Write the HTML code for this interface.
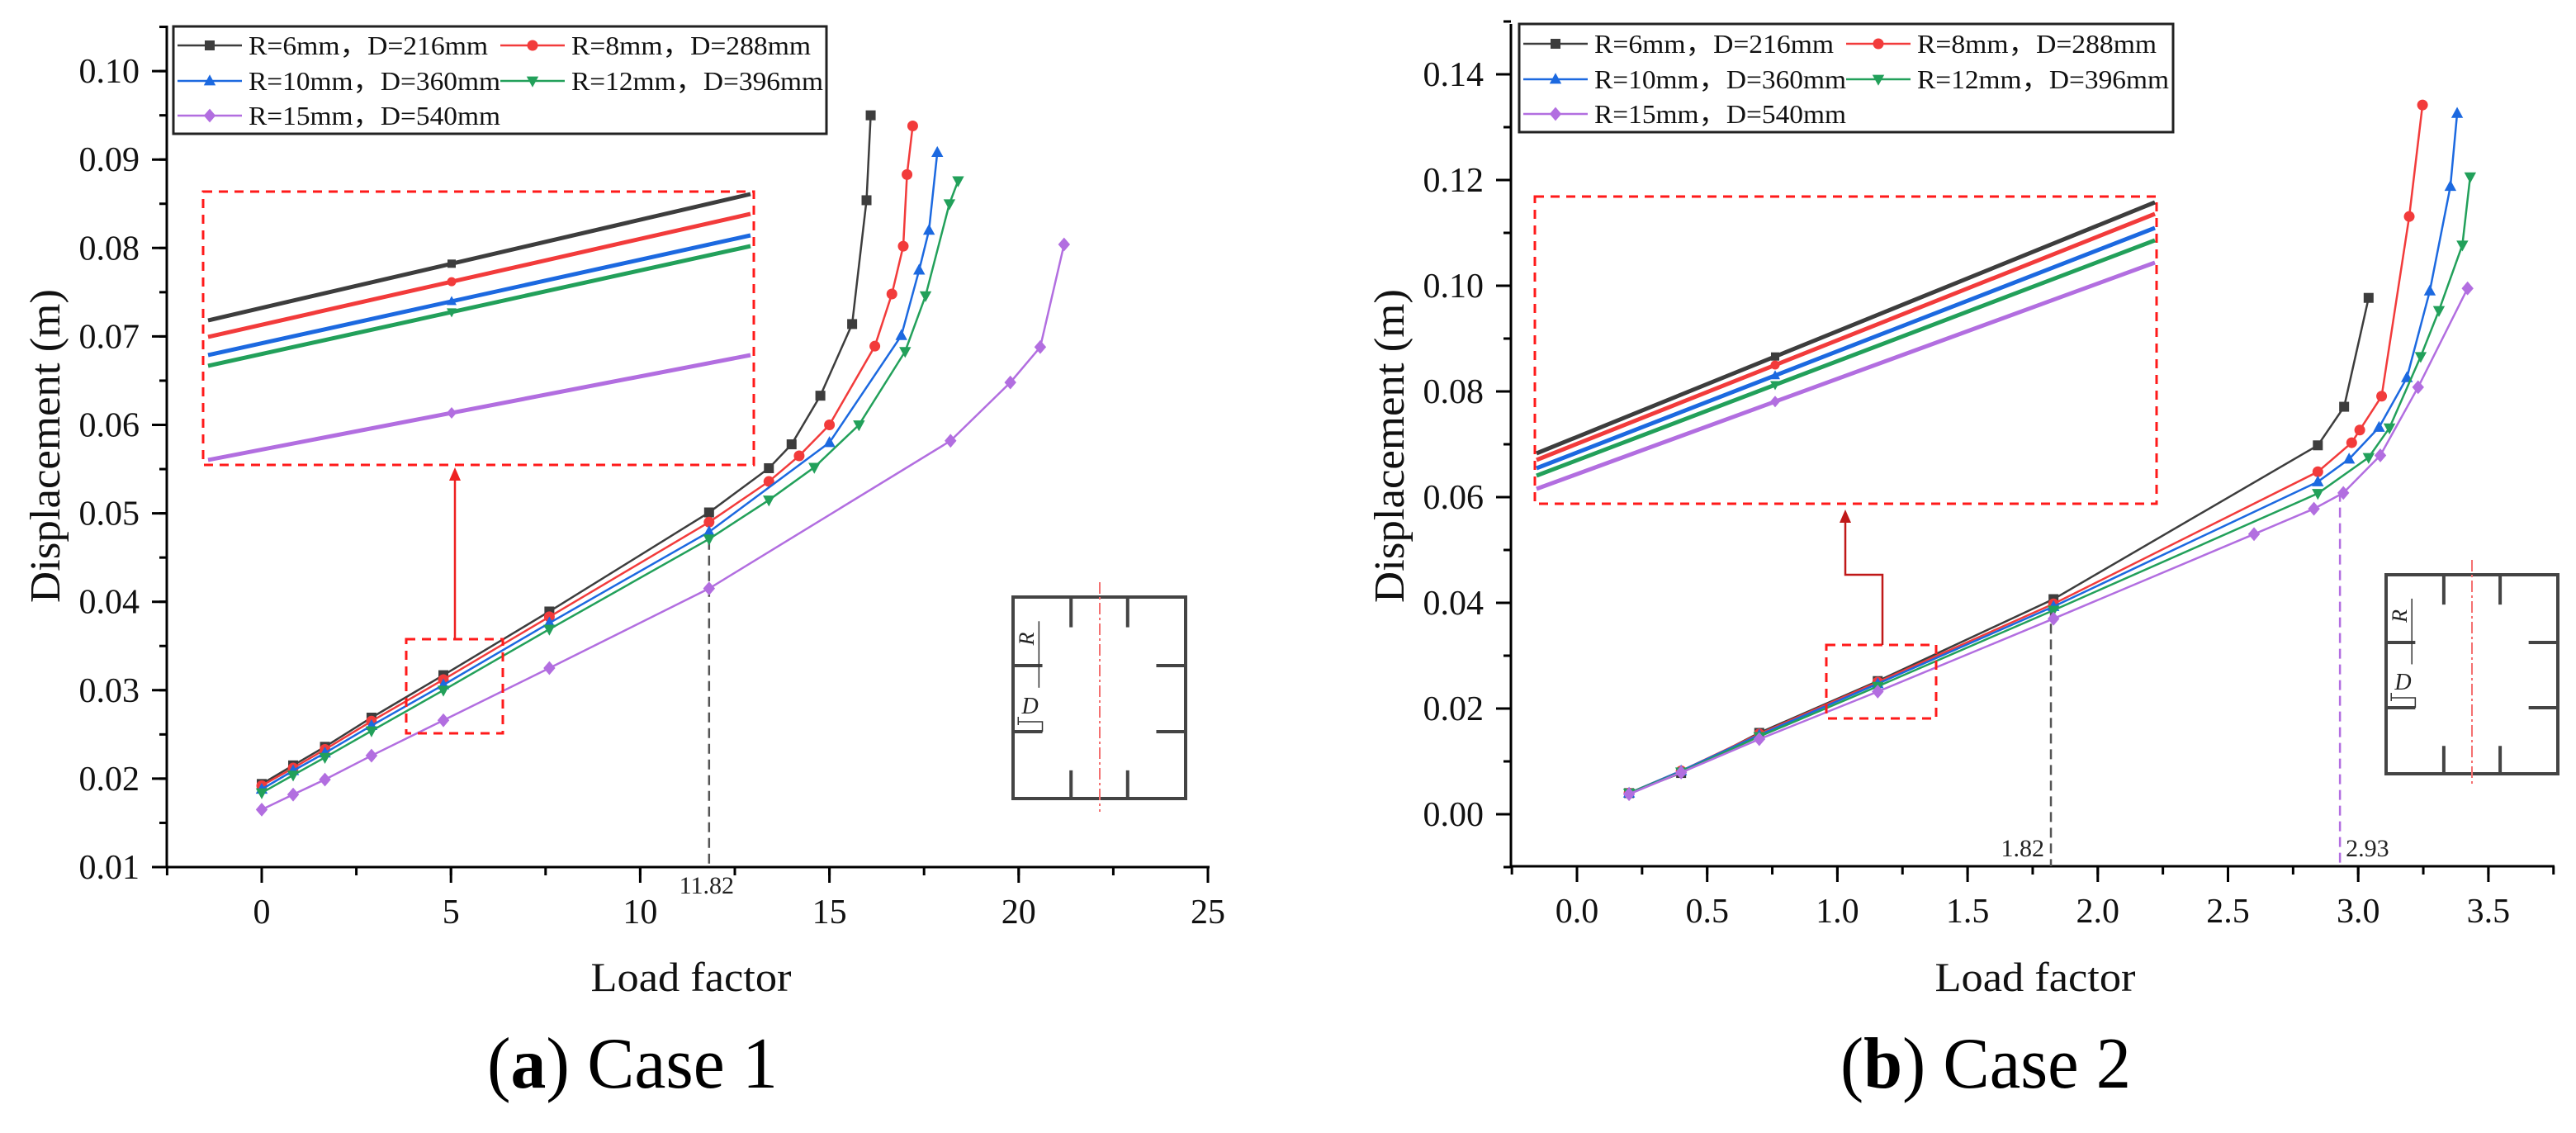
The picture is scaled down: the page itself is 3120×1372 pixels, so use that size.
<!DOCTYPE html>
<html><head><meta charset="utf-8"><style>
html,body{margin:0;padding:0;background:#fff;}
svg{display:block;font-family:"Liberation Serif",serif;}
</style></head><body>
<svg id="fig" width="3120" height="1372" viewBox="0 0 3120 1372" xmlns="http://www.w3.org/2000/svg"></svg>
<script>
// ---------- Case 1 data ----------
const c1Categories = ["R=6mm，D=216mm","R=8mm，D=288mm","R=10mm，D=360mm","R=12mm，D=396mm","R=15mm，D=540mm"];
const c1XBlack  = [0,0.83,1.67,2.9,4.8,7.6,11.82,13.4,14.0,14.76,15.6,15.98,16.09];
const c1YBlack  = [0.0194,0.0215,0.0236,0.0269,0.0317,0.0389,0.0501,0.0551,0.0578,0.0633,0.0714,0.0854,0.095];
const c1XRed    = [0,0.83,1.67,2.9,4.8,7.6,11.82,13.4,14.2,15.0,16.2,16.65,16.95,17.05,17.2];
const c1YRed    = [0.0192,0.0212,0.0233,0.0265,0.0312,0.0383,0.049,0.0536,0.0565,0.06,0.0689,0.0748,0.0802,0.0883,0.0938];
const c1XBlue   = [0,0.83,1.67,2.9,4.8,7.6,11.82,15.0,16.9,17.37,17.63,17.85];
const c1YBlue   = [0.0188,0.0209,0.0229,0.026,0.0306,0.0376,0.0479,0.058,0.0701,0.0775,0.082,0.0908];
const c1XGreen  = [0,0.83,1.67,2.9,4.8,7.6,11.82,13.4,14.6,15.78,17.0,17.54,18.17,18.4];
const c1YGreen  = [0.0184,0.0204,0.0224,0.0254,0.03,0.0369,0.0471,0.0515,0.0552,0.06,0.0683,0.0746,0.085,0.0876];
const c1XPurple = [0,0.83,1.67,2.9,4.8,7.6,11.82,18.2,19.78,20.57,21.2];
const c1YPurple = [0.0165,0.0182,0.0199,0.0226,0.0266,0.0325,0.0415,0.0582,0.0648,0.0688,0.0804];
const c1XTicks = [0,5,10,15,20,25];
const c1YTicks = [0.01,0.02,0.03,0.04,0.05,0.06,0.07,0.08,0.09,0.10];
// ---------- Case 2 data ----------
const c2XBlack  = [0.2,0.4,0.7,1.155,1.83,2.845,2.946,3.04];
const c2YBlack  = [0.004,0.0078,0.0154,0.0252,0.0407,0.0698,0.0771,0.0977];
const c2XRed    = [0.2,0.4,0.7,1.155,1.83,2.845,2.975,3.006,3.09,3.196,3.247];
const c2YRed    = [0.004,0.0082,0.0152,0.025,0.0398,0.0648,0.0703,0.0727,0.0791,0.1131,0.1342];
const c2XBlue   = [0.2,0.4,0.7,1.155,1.83,2.845,2.965,3.08,3.187,3.275,3.354,3.38];
const c2YBlue   = [0.004,0.0082,0.015,0.0247,0.0393,0.0629,0.0672,0.0732,0.0826,0.099,0.1188,0.1326];
const c2XGreen  = [0.2,0.4,0.7,1.155,1.83,2.845,3.04,3.12,3.24,3.31,3.40,3.43];
const c2YGreen  = [0.004,0.008,0.0147,0.0242,0.0386,0.0607,0.0675,0.0731,0.0866,0.0953,0.1077,0.1206];
const c2XPurple = [0.2,0.4,0.7,1.155,1.83,2.60,2.83,2.943,3.085,3.23,3.42];
const c2YPurple = [0.0038,0.0079,0.0142,0.0232,0.037,0.053,0.0578,0.0608,0.0679,0.0808,0.0995];
const c2XTicks = [0,0.5,1.0,1.5,2.0,2.5,3.0,3.5];
const c2YTicks = [0,0.02,0.04,0.06,0.08,0.10,0.12,0.14];

const colors=["#3d3d3d","#f23b3b","#1c69e0","#22a05a","#b26ee0"];
const shapes=["square","circle","up","down","diamond"];
const NS="http://www.w3.org/2000/svg";
const svg=document.getElementById("fig");
function el(tag,attrs,parent){const e=document.createElementNS(NS,tag);for(const k in attrs)e.setAttribute(k,attrs[k]);(parent||svg).appendChild(e);return e;}
function marker(g,shape,cx,cy,c,s){
  let m;
  if(shape==="square") m=el("rect",{x:cx-s/2,y:cy-s/2,width:s,height:s,fill:c},g);
  else if(shape==="circle") m=el("circle",{cx:cx,cy:cy,r:s/2+0.5,fill:c},g);
  else if(shape==="up") m=el("polygon",{points:`${cx},${cy-s*0.65} ${cx-s*0.6},${cy+s*0.45} ${cx+s*0.6},${cy+s*0.45}`,fill:c},g);
  else if(shape==="down") m=el("polygon",{points:`${cx},${cy+s*0.65} ${cx-s*0.6},${cy-s*0.45} ${cx+s*0.6},${cy-s*0.45}`,fill:c},g);
  else m=el("polygon",{points:`${cx},${cy-s*0.7} ${cx+s*0.6},${cy} ${cx},${cy+s*0.7} ${cx-s*0.6},${cy}`,fill:c},g);
  
  
  return m;
}
function text(str,attrs,parent){const t=el("text",attrs,parent);t.textContent=str;return t;}

function chart(cfg){
  const g=el("g",{});
  
  
  const X=v=>cfg.x0+(v)*cfg.xs, Y=v=>cfg.y0-(v-cfg.yb)*cfg.ys;
  const ax=el("path",{d:`M${cfg.left},${cfg.top} V${cfg.bottom} H${cfg.right}`,fill:"none",stroke:"#000","stroke-width":3},g);
  
  
  cfg.xTicks.forEach((v,i)=>{
    el("line",{x1:X(v),y1:cfg.bottom,x2:X(v),y2:cfg.bottom+19,stroke:"#000","stroke-width":3},g);
    const t=text(cfg.xFmt(v),{x:X(v),y:cfg.bottom+68,"font-size":42,"text-anchor":"middle",fill:"#111"},g);
    
    
  });
  for(let v=cfg.xMinorStart;v<=cfg.xMax+1e-9;v+=cfg.xMinor){
    el("line",{x1:X(v),y1:cfg.bottom,x2:X(v),y2:cfg.bottom+10,stroke:"#000","stroke-width":3},g);
  }
  cfg.yTicks.forEach(v=>{
    el("line",{x1:cfg.left-18,y1:Y(v),x2:cfg.left,y2:Y(v),stroke:"#000","stroke-width":3},g);
    const t=text(v.toFixed(2),{x:cfg.left-33,y:Y(v)+14,"font-size":42,"text-anchor":"end",fill:"#111"},g);
    
    
  });
  for(let v=cfg.yMinorStart;v<=cfg.yMax+1e-9;v+=cfg.yMinor){
    el("line",{x1:cfg.left-9,y1:Y(v),x2:cfg.left,y2:Y(v),stroke:"#000","stroke-width":3},g);
  }
  const yt=text("Displacement (m)",{x:0,y:0,"font-size":52,"text-anchor":"middle",transform:`translate(${cfg.ytX},540) rotate(-90)`,fill:"#111",textLength:380,lengthAdjust:"spacingAndGlyphs"},g);
  
  
  const xt=text("Load factor",{x:cfg.xtX,y:1200,"font-size":50,"text-anchor":"middle",fill:"#111",textLength:243,lengthAdjust:"spacingAndGlyphs"},g);
  
  
  const cap=el("text",{x:cfg.capX,y:1317,"font-size":88,"text-anchor":"middle",fill:"#000",textLength:352,lengthAdjust:"spacingAndGlyphs"},g);
  
  
  cap.innerHTML=`(<tspan font-weight="bold">${cfg.capL}</tspan>) ${cfg.capT}`;
  cfg.guides.forEach(gd=>{
    const l=el("line",{x1:X(gd.x),y1:Y(gd.y),x2:X(gd.x),y2:cfg.bottom,stroke:gd.c,"stroke-width":2.5,"stroke-dasharray":"12,7"},g);
    
    
    const t=text(gd.label,{x:X(gd.x)+gd.dx,y:cfg.bottom+gd.dy,"font-size":30,"text-anchor":gd.anchor,fill:"#222"},g);
    
    
  });
  cfg.series.forEach((s,i)=>{
    const sg=el("g",{},g);
    
    
    const pts=s.x.map((v,j)=>X(v)+","+Y(s.y[j])).join(" ");
    el("polyline",{points:pts,fill:"none",stroke:colors[i],"stroke-width":2.5},sg);
    s.x.forEach((v,j)=>marker(sg,shapes[i],X(v),Y(s.y[j]),colors[i],12));
  });
  const ig=el("g",{},g);
  
  
  const b=cfg.inset;
  el("rect",{x:b.x1,y:b.y1,width:b.x2-b.x1,height:b.y2-b.y1,fill:"none",stroke:"#ff1a1a","stroke-width":3,"stroke-dasharray":"11,8"},ig);
  b.lines.forEach((ln,i)=>{
    el("line",{x1:b.lx1,y1:ln[0],x2:b.lx2,y2:ln[1],stroke:colors[i],"stroke-width":5},ig);
    const my=ln[0]+(ln[1]-ln[0])*(b.mx-b.lx1)/(b.lx2-b.lx1);
    marker(ig,shapes[i],b.mx,my,colors[i],10);
  });
  const sb=cfg.small;
  const sr=el("rect",{x:sb.x1,y:sb.y1,width:sb.x2-sb.x1,height:sb.y2-sb.y1,fill:"none",stroke:"#ff1a1a","stroke-width":3,"stroke-dasharray":"11,8"},g);
  
  
  const ar=el("path",{d:cfg.arrow.d,fill:"none",stroke:cfg.arrow.c,"stroke-width":2.5},g);
  
  
  const ah=cfg.arrow.head;
  el("polygon",{points:`${ah[0]},${ah[1]} ${ah[0]-7},${ah[1]+16} ${ah[0]+7},${ah[1]+16}`,fill:cfg.arrow.c},g);
  const s=cfg.sch; const sgp=el("g",{},g);
  
  
  const w=s.x2-s.x1,h=s.y2-s.y1,st="#444";
  el("rect",{x:s.x1,y:s.y1,width:w,height:h,fill:"none",stroke:st,"stroke-width":4},sgp);
  const lx1=s.x1+w*0.336,lx2=s.x1+w*0.664,ly1=s.y1+h*0.34,ly2=s.y1+h*0.668;
  [lx1,lx2].forEach(x=>{el("line",{x1:x,y1:s.y1,x2:x,y2:s.y1+h*0.15,stroke:st,"stroke-width":4},sgp);el("line",{x1:x,y1:s.y2,x2:x,y2:s.y2-h*0.14,stroke:st,"stroke-width":4},sgp);});
  [ly1,ly2].forEach(y=>{el("line",{x1:s.x1,y1:y,x2:s.x1+w*0.17,y2:y,stroke:st,"stroke-width":4},sgp);el("line",{x1:s.x2,y1:y,x2:s.x2-w*0.17,y2:y,stroke:st,"stroke-width":4},sgp);});
  el("line",{x1:s.x1+w*0.15,y1:s.y1+h*0.12,x2:s.x1+w*0.15,y2:s.y1+h*0.45,stroke:"#333","stroke-width":1.5},sgp);
  el("path",{d:`M${s.x1+w*0.03},${ly2-18} V${ly2-8} M${s.x1+w*0.03},${ly2-12} H${s.x1+w*0.17} V${ly2}`,fill:"none",stroke:"#333","stroke-width":1.5},sgp);
  text("R",{x:0,y:0,"font-size":26,"font-style":"italic",transform:`translate(${s.x1+w*0.12},${s.y1+h*0.24}) rotate(-90)`,fill:"#222"},sgp);
  text("D",{x:s.x1+w*0.05,y:ly2-22,"font-size":28,"font-style":"italic",fill:"#222"},sgp);
  el("line",{x1:s.cx,y1:s.y1-18,x2:s.cx,y2:s.y2+16,stroke:"#f47070","stroke-width":2,"stroke-dasharray":"14,4,3,4"},sgp);
  const lg=el("g",{},g);
  
  
  const L=cfg.leg;
  el("rect",{x:L.x1,y:L.y1,width:L.x2-L.x1,height:L.y2-L.y1,fill:"#fff",stroke:"#222","stroke-width":3},lg);
  c1Categories.forEach((name,i)=>{
    const col=i%2, row=Math.floor(i/2);
    const lx=col?L.c2:L.c1, ly=L.rows[row];
    const eg=el("g",{},lg);
    
    
    el("line",{x1:lx,y1:ly,x2:lx+78,y2:ly,stroke:colors[i],"stroke-width":2.5},eg);
    marker(eg,shapes[i],lx+39,ly,colors[i],12);
    text(name,{x:lx+86,y:ly+11,"font-size":32,fill:"#111",textLength:i<2?290:305,lengthAdjust:"spacingAndGlyphs"},eg);
  });
}

chart({name:"chart-case-1",left:202,right:1465,top:31,bottom:1050,x0:317,xs:45.84,y0:1050,yb:0.01,ys:10710,
  xTicks:c1XTicks,xFmt:v=>String(v),xMinor:2.5,xMinorStart:-2.5,xMax:25,
  yTicks:c1YTicks,yMinor:0.005,yMinorStart:0.015,yMax:0.105,
  ytX:72,xtX:837,capX:766,capL:"a",capT:"Case 1",
  guides:[{x:11.82,y:0.047,c:"#555",label:"11.82",dx:-3,dy:32,anchor:"middle"}],
  series:[{x:c1XBlack,y:c1YBlack},{x:c1XRed,y:c1YRed},{x:c1XBlue,y:c1YBlue},{x:c1XGreen,y:c1YGreen},{x:c1XPurple,y:c1YPurple}],
  inset:{x1:246,y1:232,x2:913,y2:563,lx1:252,lx2:909,mx:547,lines:[[388,235],[408,259],[430,285],[443,298],[557,430]]},
  small:{x1:492,y1:774,x2:609,y2:888},
  arrow:{d:"M551,774 V580",c:"#ee2020",head:[551,566]},
  sch:{x1:1227,y1:723,x2:1436,y2:967,cx:1332},
  leg:{x1:210,y1:32,x2:1001,y2:162,c1:215,c2:606,rows:[55,98,140]}
});
chart({name:"chart-case-2",left:1830,right:3094,top:29,bottom:1049,x0:1910,xs:315.4,y0:986,yb:0,ys:6400,
  xTicks:c2XTicks,xFmt:v=>v.toFixed(1),xMinor:0.25,xMinorStart:-0.25,xMax:3.75,
  yTicks:c2YTicks,yMinor:0.01,yMinorStart:-0.01,yMax:0.15,
  ytX:1700,xtX:2465,capX:2405,capL:"b",capT:"Case 2",
  guides:[{x:1.82,y:0.039,c:"#555",label:"1.82",dx:-8,dy:-12,anchor:"end"},{x:2.93,y:0.061,c:"#b26ee0",label:"2.93",dx:7,dy:-12,anchor:"start"}],
  series:[{x:c2XBlack,y:c2YBlack},{x:c2XRed,y:c2YRed},{x:c2XBlue,y:c2YBlue},{x:c2XGreen,y:c2YGreen},{x:c2XPurple,y:c2YPurple}],
  inset:{x1:1859,y1:238,x2:2612,y2:610,lx1:1861,lx2:2610,mx:2150,lines:[[549,245],[557,259],[567,276],[576,291],[592,318]]},
  small:{x1:2212,y1:781,x2:2345,y2:870},
  arrow:{d:"M2280,781 V696 H2235 V632",c:"#c01818",head:[2235,617]},
  sch:{x1:2890,y1:696,x2:3098,y2:937,cx:2994},
  leg:{x1:1840,y1:29,x2:2632,y2:160,c1:1845,c2:2236,rows:[53,96,138]}
});
</script>
</body></html>
